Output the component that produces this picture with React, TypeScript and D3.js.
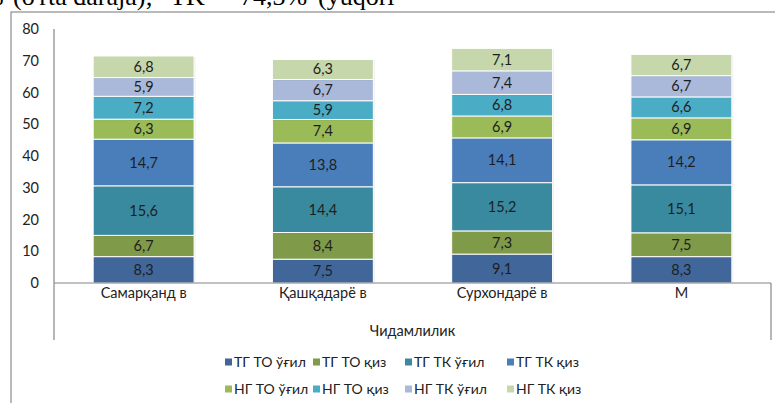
import React from "react";
import * as d3 from "d3";

const categories = ["Самарқанд в", "Қашқадарё в", "Сурхондарё в", "М"];
const seriesNames = [
  "ТГ ТО ўғил",
  "ТГ ТО қиз",
  "ТГ ТК ўғил",
  "ТГ ТК қиз",
  "НГ ТО ўғил",
  "НГ ТО қиз",
  "НГ ТК ўғил",
  "НГ ТК қиз",
];
const tgToBoy = [8.3, 7.5, 9.1, 8.3];
const tgToGirl = [6.7, 8.4, 7.3, 7.5];
const tgTkBoy = [15.6, 14.4, 15.2, 15.1];
const tgTkGirl = [14.7, 13.8, 14.1, 14.2];
const ngToBoy = [6.3, 7.4, 6.9, 6.9];
const ngToGirl = [7.2, 5.9, 6.8, 6.6];
const ngTkBoy = [5.9, 6.7, 7.4, 6.7];
const ngTkGirl = [6.8, 6.3, 7.1, 6.7];
const seriesValues = [tgToBoy, tgToGirl, tgTkBoy, tgTkGirl, ngToBoy, ngToGirl, ngTkBoy, ngTkGirl];
const yTicks = [0, 10, 20, 30, 40, 50, 60, 70, 80];
const axisTitle = "Чидамлилик";

const colors = ["#41679a", "#7f9a48", "#3a8a9f", "#4a7ebb", "#9bbb59", "#4bacc6", "#aab9d9", "#c5d7ab"];

const W = 775, H = 403;
const left = 54, right = 771, top = 29, zeroY = 283;
const font = "Lato, 'Open Sans', sans-serif";
const fs = 14.5;
const legendCols = [225, 313, 405, 507];
const legendRows = [362, 389];

const fmt = (v: number) => v.toFixed(1).replace(".", ",");

export default function App() {
  const x = d3.scaleBand<string>().domain(categories).range([left, right]).paddingInner(0.437).paddingOuter(0.2185);
  const y = d3.scaleLinear().domain([0, 80]).range([zeroY, top]);

  const table = categories.map((c, i) => {
    const row: Record<string, any> = { cat: c };
    seriesNames.forEach((s, j) => (row[s] = seriesValues[j][i]));
    return row;
  });
  const stacked = d3.stack<any>().keys(seriesNames)(table);
  const bw = x.bandwidth();

  return (
    <svg width={W} height={H} style={{ position: "absolute", left: 0, top: 0, background: "#fff" }}>
      {/* cropped text from the page above */}
      <text y={5} fontFamily="'Liberation Serif', 'Times New Roman', serif" fontSize={26} fill="#000">
        <tspan x={-18}>%</tspan>
        <tspan x={13}>(o'rta daraja);</tspan>
        <tspan x={170}>TK</tspan>
        <tspan x={212}>=</tspan>
        <tspan x={240}>74,3%</tspan>
        <tspan x={318}>(yuqori</tspan>
      </text>
      <rect x={11} y={12} width={780} height={400} fill="none" stroke="#8c8c8c" strokeWidth={1.2} />

      {/* y tick labels */}
      {yTicks.map((t) => (
        <text key={t} x={39} y={y(t) + 5} textAnchor="end" fontFamily={font} fontSize={fs} fill="#222">
          {t}
        </text>
      ))}

      {/* bars */}
      {stacked.map((layer, j) =>
        layer.map((d, i) => {
          const x0 = x(categories[i])!;
          const y0 = y(d[1]);
          const h = y(d[0]) - y(d[1]);
          return (
            <g key={`${j}-${i}`}>
              <rect x={x0 + 1.5} y={y0 + 1} width={bw} height={h} fill="#000" opacity={0.06} />
              <rect x={x0} y={y0} width={bw} height={h} fill={colors[j]} stroke="#fff" strokeWidth={1} />
              <text
                x={x0 + bw / 2}
                y={y0 + h / 2 + 5}
                textAnchor="middle"
                fontFamily={font}
                fontSize={fs}
                fill="#1e1e1e"
              >
                {fmt(seriesValues[j][i])}
              </text>
            </g>
          );
        })
      )}

      {/* axes */}
      <line x1={left} x2={left} y1={top} y2={340} stroke="#868686" strokeWidth={1.2} />
      <line x1={left} x2={right} y1={zeroY} y2={zeroY} stroke="#868686" strokeWidth={1.2} />
      <line x1={right} x2={right} y1={zeroY} y2={340} stroke="#868686" strokeWidth={1.2} />

      {categories.map((c) => (
        <text key={c} x={x(c)! + bw / 2} y={298} textAnchor="middle" fontFamily={font} fontSize={fs} fill="#222">
          {c}
        </text>
      ))}
      <text x={(left + right) / 2} y={336} textAnchor="middle" fontFamily={font} fontSize={fs} fill="#222">
        {axisTitle}
      </text>

      {/* legend */}
      {seriesNames.map((s, j) => {
        const lx = legendCols[j % 4];
        const ly = legendRows[Math.floor(j / 4)];
        return (
          <g key={s}>
            <rect x={lx} y={ly - 3.5} width={7} height={7} fill={colors[j]} />
            <text x={lx + 9} y={ly + 5} fontFamily={font} fontSize={14} fill="#222">
              {s}
            </text>
          </g>
        );
      })}
    </svg>
  );
}
